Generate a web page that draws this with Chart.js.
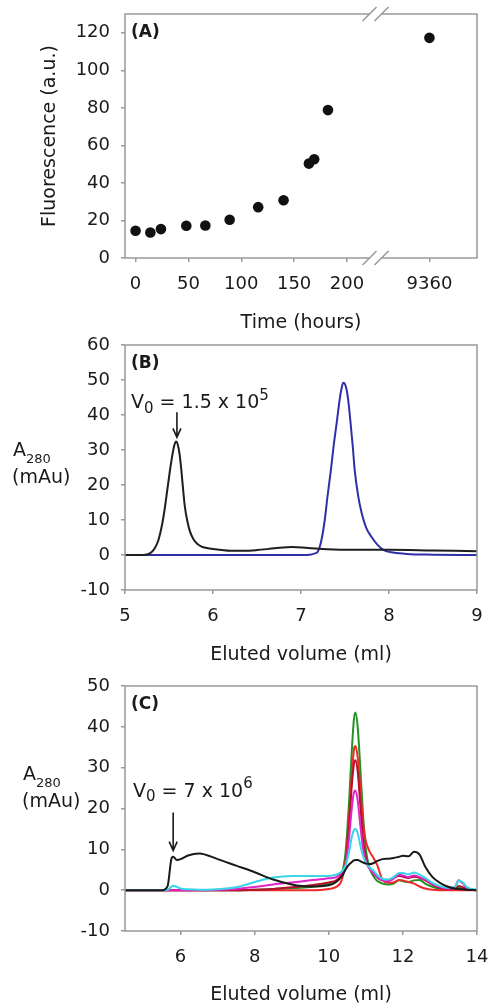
<!DOCTYPE html>
<html>
<head>
<meta charset="utf-8">
<script src="https://cdn.jsdelivr.net/npm/chart.js@4.4.1/dist/chart.umd.min.js"></script>
<style>
  body { margin: 0; background: #fff; }
  canvas { position: absolute; left: 0; }
</style>
</head>
<body>
<canvas id="panelA" width="489" height="335" style="top:0"></canvas>
<canvas id="panelB" width="489" height="335" style="top:335px"></canvas>
<canvas id="panelC" width="489" height="337" style="top:670px"></canvas>
<script>
// (A) fluorescence vs time, axis broken after ~227 h
const timeHours = [0, 14, 24, 48, 66, 89, 116, 140, 164, 169, 182, 9360];
const fluorescence = [14.5, 13.6, 15.4, 17.2, 17.3, 20.4, 27.1, 30.8, 50.3, 52.6, 78.8, 117.3];
const hourTicks = [0, 50, 100, 150, 200];
const lateTicks = [9360];
const fluorTicks = [0, 20, 40, 60, 80, 100, 120];
const hourRange = [-10, 227];
const lateRange = [9309, 9405];

// (B) elution profiles
const volVoid = [5.0, 5.2, 5.26, 5.3, 5.34, 5.38, 5.42, 5.45, 5.48, 5.51, 5.54, 5.56, 5.58, 5.60, 5.62, 5.64, 5.66, 5.68, 5.71, 5.74, 5.78, 5.82, 5.87, 5.93, 6.0, 6.1, 6.2, 6.35, 6.5, 6.7, 6.9, 7.05, 7.2, 7.5, 8.0, 8.5, 9.0];
const a280Void = [0, 0, 0.2, 0.8, 2.0, 4.3, 8.5, 13.0, 18.5, 24.0, 28.8, 31.3, 32.4, 31.5, 28.8, 24.3, 18.8, 13.8, 9.5, 6.6, 4.4, 3.2, 2.4, 2.0, 1.7, 1.4, 1.2, 1.2, 1.4, 1.9, 2.3, 2.1, 1.8, 1.5, 1.5, 1.3, 1.1];
const volBlue = [5.0, 7.0, 7.1, 7.15, 7.19, 7.23, 7.27, 7.30, 7.34, 7.37, 7.41, 7.44, 7.46, 7.48, 7.50, 7.52, 7.54, 7.56, 7.59, 7.61, 7.65, 7.69, 7.74, 7.80, 7.87, 7.94, 8.05, 8.2, 8.5, 9.0];
const a280Blue = [0, 0, 0.1, 0.4, 0.95, 4.0, 10.0, 16.5, 24.3, 31.0, 38.6, 44.5, 47.5, 49.2, 48.8, 47.0, 43.5, 38.6, 30.5, 24.3, 16.8, 11.9, 7.8, 5.2, 2.9, 1.4, 0.7, 0.3, 0.1, 0];

// (C) elution profiles, shared volume grid
const volC = [4.5, 5.5, 5.65, 5.75, 5.8, 5.9, 6.0, 6.2, 6.5, 7.0, 7.5, 8.0, 8.5, 9.0, 9.5, 10.0, 10.2, 10.35, 10.45, 10.55, 10.62, 10.68, 10.72, 10.78, 10.85, 10.92, 11.0, 11.1, 11.2, 11.3, 11.45, 11.6, 11.75, 11.9, 12.0, 12.15, 12.3, 12.45, 12.6, 12.8, 13.0, 13.2, 13.4, 13.5, 13.6, 13.75, 14.0];
const cBlack = [0, 0, 1.0, 7.6, 8.2, 7.4, 7.6, 8.5, 9.0, 7.6, 6.0, 4.4, 2.6, 1.4, 0.9, 1.2, 2.0, 3.4, 5.0, 6.3, 6.9, 7.3, 7.4, 7.4, 7.1, 6.8, 6.5, 6.4, 6.6, 7.1, 7.6, 7.7, 7.9, 8.2, 8.4, 8.3, 9.4, 8.7, 5.8, 3.2, 1.8, 0.9, 0.4, 0.3, 0.2, 0.1, 0];
const cCyan = [0, 0, 0.1, 0.8, 1.1, 0.8, 0.4, 0.2, 0.1, 0.2, 0.7, 2.0, 3.1, 3.5, 3.5, 3.5, 3.8, 4.6, 6.0, 9.5, 13.0, 14.8, 15.0, 14.0, 11.0, 8.5, 6.8, 5.6, 4.8, 3.8, 2.8, 2.6, 3.2, 4.2, 4.2, 3.9, 4.3, 3.8, 3.0, 1.8, 1.0, 0.6, 0.7, 2.3, 2.0, 0.6, 0.1];
const cMagenta = [0, 0, 0, 0, 0, 0, 0, 0, 0, 0.1, 0.3, 0.8, 1.4, 1.9, 2.4, 2.9, 3.2, 4.3, 6.0, 13.0, 20.0, 24.0, 24.4, 22.0, 16.0, 10.5, 7.0, 5.2, 4.2, 3.2, 2.4, 2.2, 2.8, 3.8, 3.6, 3.2, 3.6, 3.2, 2.6, 1.5, 0.8, 0.4, 0.6, 2.4, 1.8, 0.4, 0];
const cDarkRed = [0, 0, 0, 0, 0, 0, 0, 0, 0, 0, 0, 0.1, 0.3, 0.7, 1.2, 1.9, 2.4, 3.8, 6.0, 16.0, 25.5, 31.0, 31.8, 29.0, 21.0, 13.0, 8.0, 5.5, 4.2, 3.2, 2.4, 2.4, 3.0, 3.5, 3.3, 3.0, 3.3, 3.0, 2.4, 1.3, 0.6, 0.3, 0.3, 1.0, 0.8, 0.2, 0];
const cRed = [0, 0, 0, 0, 0, 0, 0, 0, 0, 0, 0, 0, 0, 0, 0, 0.3, 0.8, 2.5, 7.0, 18.0, 28.0, 34.5, 35.3, 32.5, 25.0, 17.0, 12.0, 9.5, 8.0, 6.3, 2.6, 1.8, 1.9, 2.5, 2.4, 2.0, 1.6, 0.9, 0.4, 0.1, 0, 0, 0, 0, 0, 0, 0];
const cGreen = [0, 0, 0, 0, 0, 0, 0, 0, 0, 0, 0, 0.1, 0.3, 0.5, 0.8, 1.5, 2.2, 4.0, 9.0, 22.0, 34.0, 42.0, 43.5, 40.0, 30.0, 19.0, 10.0, 5.5, 3.5, 2.3, 1.6, 1.4, 1.6, 2.4, 2.2, 2.0, 2.4, 2.5, 1.6, 0.8, 0.3, 0.1, 0.2, 0.6, 0.4, 0.1, 0];
const volCTicks = [6, 8, 10, 12, 14];

Chart.defaults.font.family = '"DejaVu Sans", sans-serif';
Chart.defaults.color = '#1a1a1a';

const FONT = '"DejaVu Sans", sans-serif';
const tickGrid = { drawOnChartArea: false, tickLength: 4, color: '#999', lineWidth: 1.5 };
const noBorder = { display: false };

const zeroPad = s => { s.paddingLeft = s.paddingRight = s.paddingTop = s.paddingBottom = 0; };
const fitY = s => { s.width = 125; zeroPad(s); };
const fitX = h => s => { s.height = h; zeroPad(s); };
const useTicks = list => s => { s.ticks = list.map(v => ({ value: v })); };
const plain = v => String(v);
const xy = (xs, ys) => xs.map((x, i) => ({ x: x, y: ys[i] }));

function richText(ctx, x, y, parts) {
  parts.forEach(([s, size, dy]) => {
    ctx.font = size + 'px ' + FONT;
    ctx.fillText(s, x, y + dy);
    x += ctx.measureText(s).width;
  });
}

// grey box round the plot, with optional axis break marks
const frame = {
  id: 'frame',
  afterDatasetsDraw(chart, args, o) {
    const { ctx, chartArea: a } = chart;
    ctx.save();
    ctx.strokeStyle = '#999';
    ctx.lineWidth = 1.5;
    ctx.strokeRect(a.left, a.top, a.right - a.left, a.bottom - a.top);
    if (o.cut) {
      const x = chart.scales[o.cut].left;
      [a.top, a.bottom].forEach(y => {
        ctx.fillStyle = '#fff';
        ctx.fillRect(x - 6, y - 3, 12, 6);
        ctx.beginPath();
        ctx.moveTo(x - 13, y + 7); ctx.lineTo(x + 1, y - 7);
        ctx.moveTo(x - 1, y + 7); ctx.lineTo(x + 13, y - 7);
        ctx.stroke();
      });
    }
    ctx.restore();
  }
};

// panel letter, A280 label, V0 note and arrow
const decor = {
  id: 'decor',
  afterDraw(chart, args, o) {
    const { ctx, chartArea: a } = chart;
    ctx.save();
    ctx.fillStyle = '#1a1a1a';
    ctx.textBaseline = 'middle';
    ctx.font = 'bold 17px ' + FONT;
    ctx.fillText(o.panel, a.left + 6, a.top + 19);
    if (o.xTitle) {
      ctx.font = '19px ' + FONT;
      ctx.textAlign = 'center';
      ctx.fillText(o.xTitle.text, (a.left + a.right) / 2, o.xTitle.y);
      ctx.textAlign = 'left';
    }
    ctx.textBaseline = 'alphabetic';
    if (o.yLabel) {
      richText(ctx, o.yLabel.x, o.yLabel.y, [['A', 19, 0], ['280', 13, 7]]);
      ctx.font = '19px ' + FONT;
      ctx.fillText('(mAu)', o.yLabel.x - 1, o.yLabel.y + 27);
    }
    if (o.note) {
      richText(ctx, o.note.x, o.note.y, o.note.parts);
      const px = chart.scales.x.getPixelForValue(o.note.arrow.x);
      const y0 = chart.scales.y.getPixelForValue(o.note.arrow.from);
      const y1 = chart.scales.y.getPixelForValue(o.note.arrow.to);
      ctx.strokeStyle = '#1a1a1a';
      ctx.lineWidth = 1.6;
      ctx.beginPath();
      ctx.moveTo(px, y0); ctx.lineTo(px, y1);
      ctx.moveTo(px - 4, y1 - 9); ctx.lineTo(px, y1); ctx.lineTo(px + 4, y1 - 9);
      ctx.stroke();
    }
    ctx.restore();
  }
};

Chart.register(frame, decor);

const tickFont = { size: 18 };
const titleFont = { size: 19 };

// ---------- (A)
const pts = xy(timeHours, fluorescence);
const dot = { backgroundColor: '#111', borderWidth: 0, pointRadius: 5.3, yAxisID: 'y' };

new Chart(document.getElementById('panelA'), {
  type: 'scatter',
  data: {
    datasets: [
      Object.assign({ data: pts.filter(p => p.x <= hourRange[1]), xAxisID: 'x' }, dot),
      Object.assign({ data: pts.filter(p => p.x > hourRange[1]), xAxisID: 'x2' }, dot)
    ]
  },
  options: {
    responsive: false,
    animation: false,
    events: [],
    layout: { padding: { top: 14, right: 12, bottom: 0, left: 0 } },
    plugins: {
      legend: { display: false },
      tooltip: { enabled: false },
      frame: { cut: 'x2' },
      decor: { panel: '(A)', xTitle: { text: 'Time (hours)', y: 323 } }
    },
    scales: {
      x: {
        type: 'linear', position: 'bottom', stack: 'time',
        stackWeight: hourRange[1] - hourRange[0],
        min: hourRange[0], max: hourRange[1],
        afterBuildTicks: useTicks(hourTicks), afterFit: fitX(77),
        grid: tickGrid, border: noBorder,
        ticks: { font: tickFont, padding: 12, callback: plain, maxRotation: 0 }
      },
      x2: {
        type: 'linear', position: 'bottom', stack: 'time',
        stackWeight: lateRange[1] - lateRange[0],
        min: lateRange[0], max: lateRange[1],
        afterBuildTicks: useTicks(lateTicks), afterFit: fitX(77),
        grid: tickGrid, border: noBorder,
        ticks: { font: tickFont, padding: 12, callback: plain, maxRotation: 0 }
      },
      y: {
        min: 0, max: 130,
        afterBuildTicks: useTicks(fluorTicks), afterFit: fitY,
        grid: tickGrid, border: noBorder,
        ticks: { font: tickFont, padding: 11, callback: plain },
        title: { display: true, text: 'Fluorescence (a.u.)', font: titleFont, padding: { top: 38.6, bottom: 0 } }
      }
    }
  }
});

// ---------- (B) and (C)
function line(xs, ys, color) {
  return {
    data: xy(xs, ys), borderColor: color, borderWidth: 2, pointRadius: 0,
    fill: false, cubicInterpolationMode: 'monotone'
  };
}

function elutionOptions(cfg) {
  return {
    responsive: false,
    animation: false,
    events: [],
    layout: { padding: { top: cfg.top, right: 12, bottom: 0, left: 0 } },
    plugins: {
      legend: { display: false },
      tooltip: { enabled: false },
      frame: {},
      decor: cfg.decor
    },
    scales: {
      x: Object.assign({
        type: 'linear', min: cfg.xMin, max: cfg.xMax,
        afterFit: fitX(cfg.xHeight),
        grid: tickGrid, border: noBorder,
        ticks: { font: tickFont, padding: 12, callback: plain, maxRotation: 0, stepSize: 1 },
        title: { display: true, text: 'Eluted volume (ml)', font: titleFont, padding: { top: 0, bottom: cfg.titlePad } }
      }, cfg.xExtra || {}),
      y: {
        min: cfg.yMin, max: cfg.yMax,
        afterFit: fitY,
        grid: tickGrid, border: noBorder,
        ticks: { font: tickFont, padding: 11, stepSize: 10, callback: plain }
      }
    }
  };
}

new Chart(document.getElementById('panelB'), {
  type: 'line',
  data: {
    datasets: [
      line(volVoid, a280Void, '#1e1e1e'),
      line(volBlue, a280Blue, '#2f2fa8')
    ]
  },
  options: elutionOptions({
    top: 10, xMin: 5, xMax: 9, xHeight: 80, titlePad: 3.6, yMin: -10, yMax: 60,
    decor: {
      panel: '(B)',
      yLabel: { x: 13, y: 121 },
      note: {
        x: 131, y: 73,
        parts: [['V', 19, 0], ['0', 15, 5], [' = 1.5 x 10', 19, 0], ['5', 15, -8]],
        arrow: { x: 5.59, from: 40.8, to: 33.6 }
      }
    }
  })
});

new Chart(document.getElementById('panelC'), {
  type: 'line',
  data: {
    datasets: [
      line(volC, cBlack, '#1a1a1a'),
      line(volC, cCyan, '#38d6e6'),
      line(volC, cMagenta, '#e024c8'),
      line(volC, cDarkRed, '#b3122e'),
      line(volC, cRed, '#ee2a2a'),
      line(volC, cGreen, '#229322')
    ]
  },
  options: elutionOptions({
    top: 16, xMin: 4.5, xMax: 14, xHeight: 76, titlePad: 0.6, yMin: -10, yMax: 50,
    xExtra: { afterBuildTicks: useTicks(volCTicks) },
    decor: {
      panel: '(C)',
      yLabel: { x: 23, y: 110 },
      note: {
        x: 133, y: 127,
        parts: [['V', 19, 0], ['0', 15, 4], [' = 7 x 10', 19, 0], ['6', 15, -9]],
        arrow: { x: 5.8, from: 19.0, to: 9.7 }
      }
    }
  })
});
</script>
</body>
</html>
